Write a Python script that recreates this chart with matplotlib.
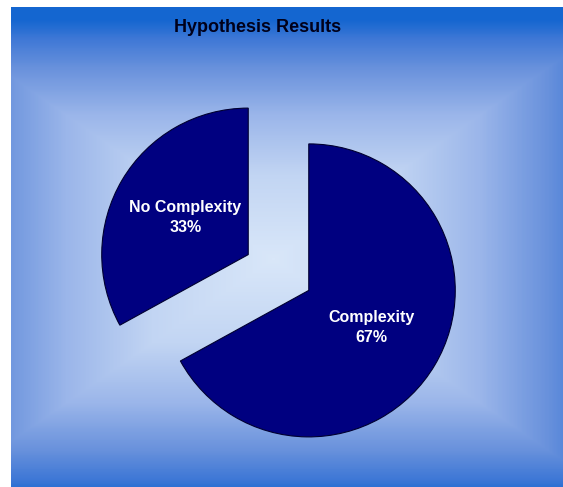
import numpy as np
import matplotlib
matplotlib.use("Agg")
import matplotlib.pyplot as plt
from matplotlib.colors import LinearSegmentedColormap

# Data
categories = ["Complexity", "No Complexity"]
values = [67, 33]
title = "Hypothesis Results"

W, H = 563, 487
fig = plt.figure(figsize=(W / 100, H / 100), dpi=100)
fig.patch.set_facecolor("white")

# Background rectangular gradient
bx0, by0, bx1, by1 = 11, 7, 563, 487  # pixel box (y from top)
bg = fig.add_axes([bx0 / W, 1 - by1 / H, (bx1 - bx0) / W, (by1 - by0) / H])
bg.set_axis_off()
nx, ny = 552, 480
xs = np.linspace(-1, 1, nx)
ys = np.linspace(-1, 1, ny)
X, Y = np.meshgrid(xs, ys)
cxo, cyo = -0.05, 0.05
T = np.maximum(np.abs(X - cxo) / 1.25, np.abs(Y - cyo) / 1.0)
T = np.clip(T, 0, 1)
cmap = LinearSegmentedColormap.from_list(
    "bg",
    [(0.0, "#d9e7f9"), (0.35, "#c2d5f3"), (0.6, "#9bb6ea"),
     (0.8, "#6891dc"), (0.92, "#3f78d6"), (1.0, "#1466d0")],
)
bg.imshow(T, cmap=cmap, vmin=0, vmax=1, aspect="auto", interpolation="bilinear")

# Pie
pcx, pcy, R = 278.5, 272.5, 146.5
half = 210
ax = fig.add_axes([(pcx - half) / W, (H - pcy - half) / H, 2 * half / W, 2 * half / H])
ax.patch.set_alpha(0)
labels = [f"{c}\n{v}%" for c, v in zip(categories, values)]
wedges, texts = ax.pie(
    values,
    labels=labels,
    startangle=90,
    counterclock=False,
    explode=[0.24, 0.24],
    colors=["#000080", "#000080"],
    labeldistance=0.5,
    wedgeprops=dict(edgecolor="#000030", linewidth=0.8),
    textprops=dict(color="white", fontsize=11.5, fontweight="bold",
                   family=["Liberation Sans", "DejaVu Sans"]),
)
for t in texts:
    t.set_ha("center")
    t.set_va("center")
    t.set_linespacing(1.4)
ax.set_xlim(-half / R, half / R)
ax.set_ylim(-half / R, half / R)
ax.set_aspect("equal")
ax.set_axis_off()

fig.text(258 / W, 1 - 28 / H, title, ha="center", va="center", fontsize=13,
         fontweight="bold", color="#00001a", family=["Liberation Sans", "DejaVu Sans"])

fig.savefig("out.png", dpi=100)
